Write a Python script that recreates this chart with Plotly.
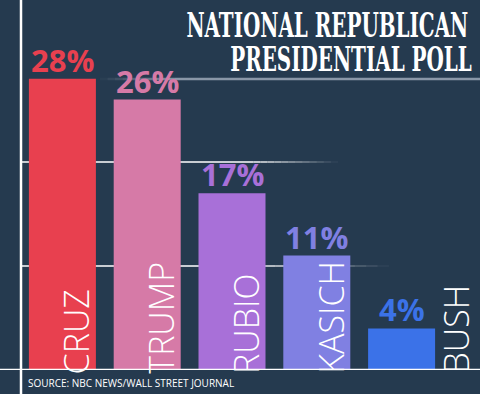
import plotly.graph_objects as go

candidates = ["CRUZ", "TRUMP", "RUBIO", "KASICH", "BUSH"]
values = [28, 26, 17, 11, 4]
labels = ["28%", "26%", "17%", "11%", "4%"]
colors = ["#e8404f", "#d67aa7", "#a870d8", "#8080e2", "#3b72e8"]
grid_vals = [10, 20]
grid_fade_end = [0.87, 0.75]
inside = [True, True, True, True, False]
title_lines = ["NATIONAL REPUBLICAN", "PRESIDENTIAL POLL"]

BG = "#253a4f"
W, H = 480, 394
ML, MR, MT, MB = 20, 36, 6, 24
plot_w = W - ML - MR
plot_h = H - MT - MB
bargap = 0.21
half_bar_px = plot_w / len(candidates) * (1 - bargap) / 2

def px_x(p):
    return (p - ML) / plot_w

def px_y(p):
    return (H - MB - p) / plot_h

fig = go.Figure()
fig.add_trace(go.Bar(
    x=candidates, y=values, marker=dict(color=colors, line=dict(width=0)),
    hoverinfo="skip",
))

shapes = []
# fading gridlines
for gv, fe in zip(grid_vals, grid_fade_end):
    n = 12
    start_solid = 0.55
    shapes.append(dict(type="line", xref="paper", yref="y", x0=0, x1=start_solid, y0=gv, y1=gv,
                       line=dict(color="white", width=1.5), layer="below"))
    for i in range(n):
        a0 = start_solid + (fe - start_solid) * i / n
        a1 = start_solid + (fe - start_solid) * (i + 1) / n
        shapes.append(dict(type="line", xref="paper", yref="y", x0=a0, x1=a1, y0=gv, y1=gv,
                           line=dict(color="white", width=1.5), opacity=1 - (i + 0.5) / n, layer="below"))
# baseline
shapes.append(dict(type="line", xref="paper", yref="y", x0=px_x(0), x1=px_x(W),
                   y0=0, y1=0, line=dict(color="white", width=2.5), layer="above"))
# vertical line
shapes.append(dict(type="line", xref="paper", yref="paper", x0=px_x(21), x1=px_x(21), y0=px_y(H), y1=px_y(0),
                   line=dict(color="white", width=2.5), layer="above"))
# title underline
uy = px_y(79)
n = 10
for i in range(n):
    a0 = px_x(100) + (px_x(175) - px_x(100)) * i / n
    a1 = px_x(100) + (px_x(175) - px_x(100)) * (i + 1) / n
    shapes.append(dict(type="line", xref="paper", yref="paper", x0=a0, x1=a1, y0=uy, y1=uy,
                       line=dict(color="#8a97a8", width=2.5), opacity=(i + 0.5) / n, layer="below"))
shapes.append(dict(type="line", xref="paper", yref="paper", x0=px_x(175), x1=px_x(W),
                   y0=uy, y1=uy, line=dict(color="#8a97a8", width=2.5), layer="below"))

annotations = []
# value labels
for c, v, t, col in zip(candidates, values, labels, colors):
    annotations.append(dict(
        x=c, y=v, xref="x", yref="y", text=t, showarrow=False,
        xanchor="center", yanchor="bottom", yshift=-4,
        font=dict(family="Open Sans", size=31, color=col, weight="bold"),
    ))
# category labels
for c, ins in zip(candidates, inside):
    annotations.append(dict(
        x=c, y=0, xref="x", yref="y", text=c, showarrow=False, textangle=-90,
        xanchor="right" if ins else "left", yanchor="bottom",
        xshift=half_bar_px + (5 if ins else -5), yshift=-6,
        font=dict(family="Open Sans", size=34, color="white", weight=300),
    ))
# title (two lines)
for i, line in enumerate(title_lines):
    annotations.append(dict(
        x=px_x(494), y=px_y(6 + 34 * i), xref="paper", yref="paper", text=line,
        showarrow=False, xanchor="right", yanchor="top", height=34, valign="middle",
        font=dict(family="DejaVu Serif", size=33, color="white", weight="bold"),
    ))
annotations.append(dict(
    x=px_x(26), y=px_y(383), xref="paper", yref="paper",
    text="SOURCE: NBC NEWS/WALL STREET JOURNAL", showarrow=False, xanchor="left", yanchor="middle",
    font=dict(family="Open Sans", size=10, color="white"),
))

fig.update_layout(
    width=W, height=H, margin=dict(l=ML, r=MR, t=MT, b=MB),
    paper_bgcolor=BG, plot_bgcolor=BG, showlegend=False, bargap=bargap,
    xaxis=dict(visible=False, range=[-0.5, 4.5]),
    yaxis=dict(visible=False, range=[0, 35]),
    shapes=shapes, annotations=annotations,
)
post = (
    "document.body.style.margin='0';document.body.style.overflow='hidden';"
    "document.querySelectorAll('.annotation-text').forEach(function(t){"
    "var s=t.textContent;"
    "if(s.indexOf('NATIONAL')>=0||s.indexOf('PRESIDENTIAL')>=0){"
    "t.style.fontStretch='condensed';t.style.transformBox='fill-box';"
    "t.style.transformOrigin='100% 50%';t.style.transform='scaleX(0.67)';}});"
)
fig.write_html("out.html", config={"displayModeBar": False}, post_script=post)
